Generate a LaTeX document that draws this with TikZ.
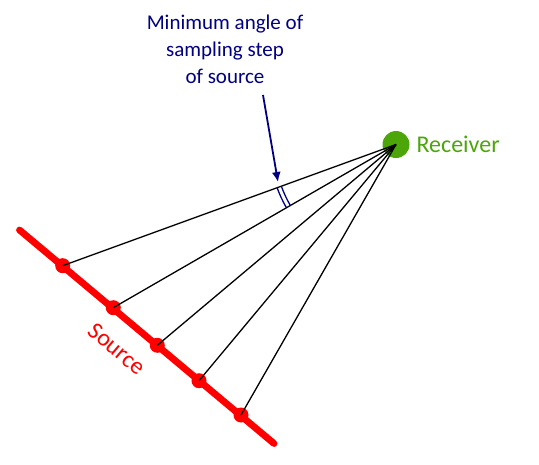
\documentclass[tikz,border=0pt]{standalone}
\usepackage{fontspec}
\setmainfont{Carlito}
\usetikzlibrary{arrows.meta,calc}
\definecolor{navyc}{RGB}{0,0,128}
\definecolor{recg}{RGB}{76,166,10}
\definecolor{srcred}{RGB}{255,0,0}
\begin{document}
\begin{tikzpicture}[x=1pt,y=-1pt,
  ray/.style={black, line width=1.3pt},
  srcpt/.style={circle, fill=srcred, inner sep=0pt, minimum size=15pt},
  lbl/.style={font=\fontsize{21}{27}\selectfont},
  biglbl/.style={font=\fontsize{24}{28}\selectfont}]
\useasboundingbox (0,0) rectangle (539,464);
% source line
\coordinate (sa) at (19.5,230);
\coordinate (sb) at (274,443.5);
\draw[srcred, line width=6.8pt, line cap=round] (sa) -- (sb);
% receiver
\node[circle, fill=recg, inner sep=0pt, minimum size=27pt] (rec) at (396,144.5) {};
\node[biglbl, text=recg, anchor=west] (reclbl) at (413,144) {Receiver};
% source points
\node[srcpt] (p1) at (62.7,265.7) {};
\node[srcpt] (p2) at (113.3,307.7) {};
\node[srcpt] (p3) at (157.3,345.3) {};
\node[srcpt] (p4) at (199,380.7) {};
\node[srcpt] (p5) at (241,415) {};
\foreach \p in {p1,p2,p3,p4,p5}
  \draw[ray] (rec.center) -- (\p.center);
% angle arcs
\draw[navyc, line width=1.3pt] ($(rec.center)+(200:122pt)$) arc[start angle=200, end angle=210, radius=122pt];
\draw[navyc, line width=1.3pt] ($(rec.center)+(200:126.5pt)$) arc[start angle=200, end angle=210, radius=126.5pt];
% label
\node[lbl, text=navyc, align=center] (angl) at (225,49) {Minimum angle of\\sampling step\\of source};
\coordinate (tip) at (278,182);
\draw[navyc, line width=1.8pt, -{Latex[length=10pt,width=9pt]}] (263,95) -- (tip);
% source label
\node[biglbl, text=srcred, rotate=-40] (srclbl) at (117,349) {Source};
\end{tikzpicture}
\end{document}
